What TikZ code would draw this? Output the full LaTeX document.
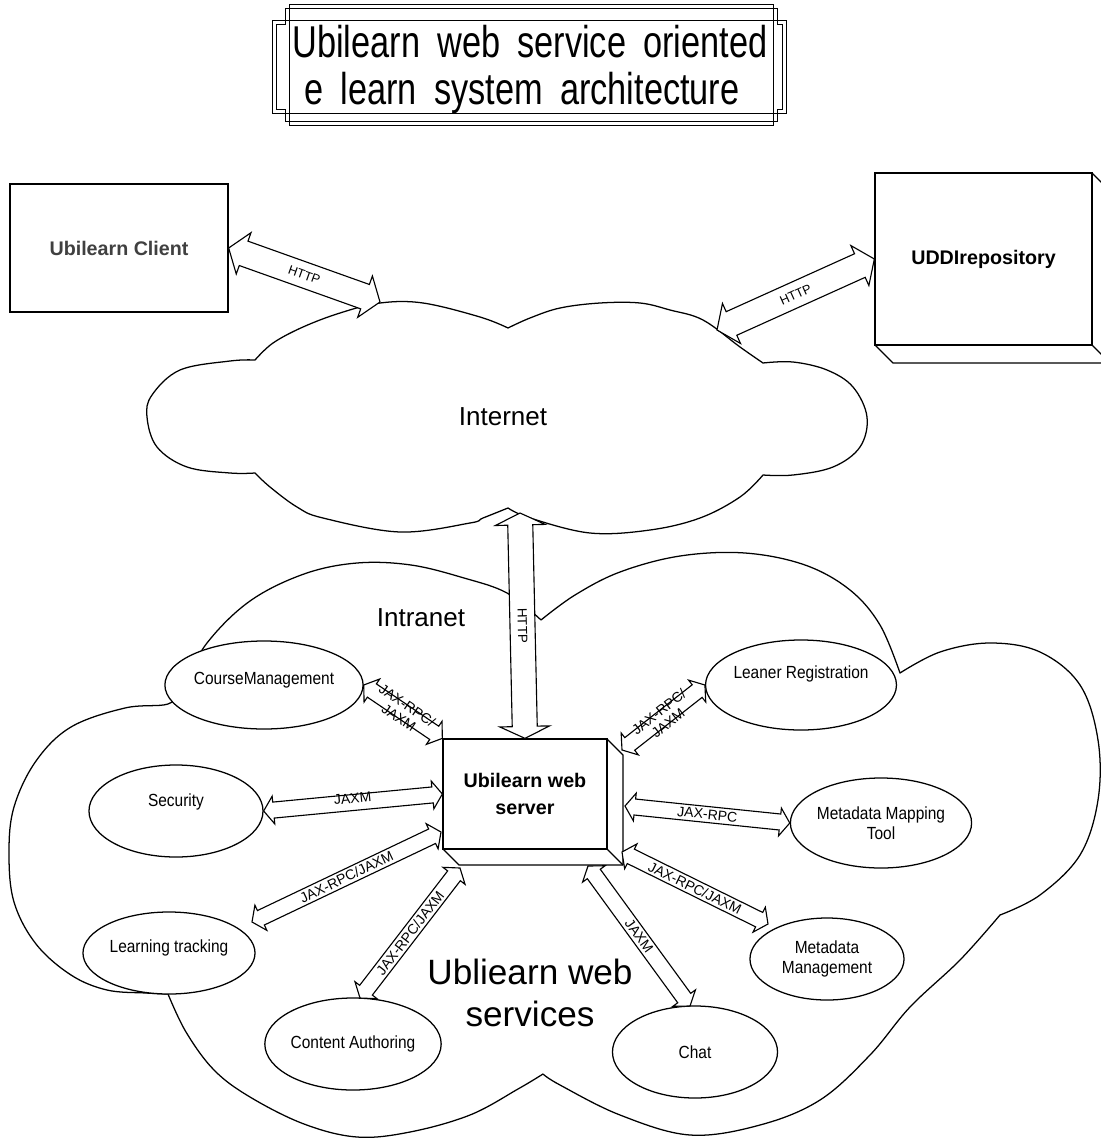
\documentclass[tikz,border=0pt]{standalone}
\usepackage{fontspec}
\setmainfont{Liberation Sans}
\newfontfamily\titlefont[FakeStretch=0.77, WordSpace=1.8]{Liberation Sans}
\newfontfamily\ovalfont[FakeStretch=0.88]{Liberation Sans}
\usetikzlibrary{calc,shapes.geometric}

\tikzset{
  outline/.style={line width=0.9pt, line join=round},
  frameline/.style={line width=0.7pt},
  oval/.style={ellipse, draw, line width=0.9pt, fill=white, inner sep=0pt,
    font=\ovalfont\fontsize{12.5}{14}\selectfont, align=center},
  box/.style={rectangle, draw, line width=0.9pt, fill=white, inner sep=0pt,
    font=\bfseries\fontsize{14}{16.5}\selectfont, align=center},
  conn/.style={draw, fill=white, line width=0.8pt, line join=miter},
  lbl/.style={font=\fontsize{10}{10.5}\selectfont, inner sep=0pt, align=center},
  httplbl/.style={font=\fontsize{9}{10}\selectfont, inner sep=0pt},
  cloudtext/.style={font=\fontsize{18.5}{22}\selectfont},
}

% double-headed block arrow: from, to, shaft half width, head half width,
% head length, label options, label
\newcommand\blockarrow[7]{%
  \coordinate (ba-s) at ($(#1)!#5!(#2)$);
  \coordinate (ba-e) at ($(#2)!#5!(#1)$);
  \draw[conn] (#1)
    -- ($(ba-s)!#4!90:(#2)$) -- ($(ba-s)!#3!90:(#2)$)
    -- ($(ba-e)!#3!-90:(#1)$) -- ($(ba-e)!#4!-90:(#1)$)
    -- (#2)
    -- ($(ba-e)!#4!90:(#1)$) -- ($(ba-e)!#3!90:(#1)$)
    -- ($(ba-s)!#3!-90:(#2)$) -- ($(ba-s)!#4!-90:(#2)$)
    -- cycle;
  \path (#1) -- (#2) node[midway, sloped, #6] {#7};
}

\begin{document}
\begin{tikzpicture}[x=0.025cm, y=-0.025cm]
\useasboundingbox (0,0) rectangle (1100,1138);

% ---- title frame ----
\draw[frameline] (272,20) -- (289,20) -- (289,4) -- (773,4) -- (773,20) -- (786,20)
  -- (786,113) -- (773,113) -- (773,125) -- (289,125) -- (289,113) -- (272,113) -- cycle;
\draw[frameline] (276,24) -- (285,24) -- (285,8) -- (777,8) -- (777,24) -- (782,24)
  -- (782,109) -- (777,109) -- (777,121) -- (285,121) -- (285,109) -- (276,109) -- cycle;
\draw[frameline] (289,20) rectangle (773,113);
\node[anchor=base, font=\titlefont\fontsize{31.7}{34}\selectfont, inner sep=0pt]
  (title1) at (530,57) {Ubilearn web service oriented};
\node[anchor=base, font=\titlefont\fontsize{31.7}{34}\selectfont, inner sep=0pt]
  (title2) at (522,104) {e learn system architecture};

% ---- Internet cloud ----
\draw[outline]
  plot[smooth, tension=0.6] coordinates {(255,360) (230,361) (180,370) (152,395) (147,417) (157,447) (187,467) (230,473) (255,473)}
  -- plot[smooth, tension=0.6] coordinates {(255,473) (270,487) (297,507) (323,518) (400,532) (470,523) (483,518) (508,508)}
  -- plot[smooth, tension=0.6] coordinates {(508,508) (530,518) (590,533) (650,530) (700,518) (740,497) (763,475)}
  -- plot[smooth, tension=0.6] coordinates {(763,475) (793,475) (833,467) (860,447) (867,417) (853,387) (827,370) (793,362) (763,363)}
  -- plot[smooth, tension=0.6] coordinates {(763,363) (740,347) (703,320) (670,310) (640,303) (600,303) (560,308) (530,318) (508,328)}
  -- plot[smooth, tension=0.6] coordinates {(508,328) (480,317) (423,303) (380,303) (340,313) (303,327) (273,343) (255,360)}
  -- cycle;
\node[cloudtext] (internet) at (503,417) {Internet};

% ---- Intranet cloud ----
\draw[outline]
  plot[smooth, tension=0.6] coordinates {(180,690) (207,643) (250,601) (304,574) (357,563) (411,565) (464,578) (507,593) (541,620)}
  -- plot[smooth, tension=0.6] coordinates {(541,620) (575,595) (620,572) (680,556) (745,553) (805,565) (850,590) (880,625) (900,673)}
  -- plot[smooth, tension=0.6] coordinates {(900,673) (940,652) (990,643) (1040,652) (1080,685) (1098,740) (1098,800) (1080,855) (1040,895) (1000,915)}
  -- plot[smooth, tension=0.6] coordinates {(1000,915) (960,960) (910,1007) (870,1055) (820,1100) (760,1125) (690,1135) (620,1115) (560,1085) (543,1074)}
  -- plot[smooth, tension=0.6] coordinates {(543,1074) (518,1089) (470,1115) (410,1132) (357,1137) (304,1124) (250,1097) (214,1070) (186,1032) (168,994)}
  -- plot[smooth, tension=0.6] coordinates {(168,994) (146,993) (107,990) (71,975) (36,944) (14,902) (9,853) (14,807) (36,761) (71,727) (125,708) (168,704) (180,690)}
  -- cycle;
\node[cloudtext] (intranet) at (421,618) {Intranet};
\node[font=\fontsize{25}{30}\selectfont, align=center, inner sep=0pt] (services) at (530,993)
  {Ubliearn web\\services};

% ---- outer hosts ----
\node[box, minimum width=5.45cm, minimum height=3.2cm, text=black!75] (client) at (119,248) {Ubilearn Client};
\draw[outline, fill=white] (1092,173) -- (1110,191) -- (1110,363) -- (893,363) -- (875,345) -- cycle;
\draw[outline] (1092,345) -- (1110,363);
\node[box, minimum width=5.425cm, minimum height=4.3cm] (uddi) at (983.5,259) {UDDIrepository};

% ---- web server (3D box) ----
\draw[outline, fill=white] (607,739) -- (623,755) -- (623,865) -- (459,865) -- (443,849) -- cycle;
\draw[outline] (607,849) -- (623,865);
\node[box, minimum width=4.1cm, minimum height=2.75cm] (srv) at (525,794) {Ubilearn web\\[3pt]server};

% ---- services ----
\node[oval, minimum width=4.3cm, minimum height=2.2cm] (cm) at (264,685) {CourseManagement\\[-4pt]};
\node[oval, minimum width=4.35cm, minimum height=2.3cm] (sec) at (176,811) {Security\\[2pt]};
\node[oval, minimum width=4.3cm, minimum height=2.05cm] (lt) at (169,953) {Learning tracking\\[-4pt]};
\node[oval, minimum width=4.15cm, minimum height=2.3cm] (ca) at (353,1044) {Content Authoring};
\node[oval, minimum width=4.3cm, minimum height=2.25cm] (lr) at (801,685) {Leaner Registration\\[4pt]};
\node[oval, minimum width=4.45cm, minimum height=2.25cm] (mmt) at (881,823) {Metadata Mapping\\Tool};
\node[oval, minimum width=3.85cm, minimum height=2.05cm] (mm) at (827,959) {Metadata\\Management};
\node[oval, minimum width=4.125cm, minimum height=2.3cm] (chat) at (695,1052) {Chat};

% ---- free connector ends ----
\coordinate (inetA) at (380,302);
\coordinate (inetB) at (717,330);
\coordinate (inetC) at (520,513);
\coordinate (srvLT) at (441,832);
\coordinate (srvCA) at (460,868);
\coordinate (srvLR) at (622,750);
\coordinate (srvMMT) at (625,806);
\coordinate (srvMM) at (622,852);
\coordinate (srvCH) at (588,866);
\coordinate (ltA) at (252,922);
\coordinate (caA) at (360,998);
\coordinate (mmA) at (768,924);
\coordinate (chA) at (690,1006);

% ---- connectors ----
\blockarrow{client.east}{inetA}{9.2pt}{15.6pt}{11.3pt}{httplbl}{HTTP}
\blockarrow{inetB}{uddi.west}{9.2pt}{15.6pt}{11.3pt}{httplbl}{HTTP}
\blockarrow{srv.north}{inetC}{8.9pt}{17.7pt}{8.5pt}{httplbl, font=\fontsize{9.5}{10}\selectfont}{HTTP}
\blockarrow{cm.east}{srv.north west}{5.7pt}{9.9pt}{7pt}{lbl}{JAX-RPC/\\JAXM}
\blockarrow{sec.east}{srv.west}{5.7pt}{9.9pt}{7pt}{lbl, yshift=3pt}{JAXM}
\blockarrow{ltA}{srvLT}{5.7pt}{9.9pt}{7pt}{lbl}{JAX-RPC/JAXM}
\blockarrow{caA}{srvCA}{5.7pt}{9.9pt}{7pt}{lbl}{JAX-RPC/JAXM}
\blockarrow{srvLR}{lr.west}{5.7pt}{9.9pt}{7pt}{lbl}{JAX-RPC/\\JAXM}
\blockarrow{srvMMT}{mmt.west}{5.7pt}{9.9pt}{7pt}{lbl}{JAX-RPC}
\blockarrow{srvMM}{mmA}{5.7pt}{9.9pt}{7pt}{lbl}{JAX-RPC/JAXM}
\blockarrow{srvCH}{chA}{5.7pt}{9.9pt}{7pt}{lbl}{JAXM}
\end{tikzpicture}
\end{document}
